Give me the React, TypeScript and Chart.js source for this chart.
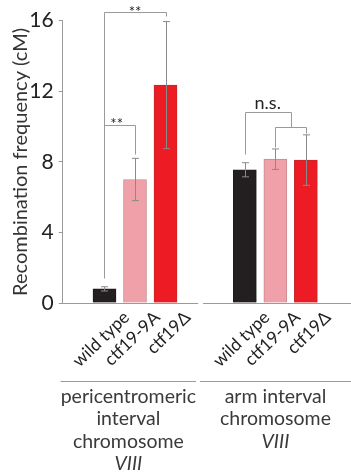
import React, { useEffect, useRef } from "react";
import { Chart, registerables } from "chart.js";

Chart.register(...registerables);

// ---- data ----
const categories = ["wild type", "ctf19-9A", "ctf19Δ", "wild type", "ctf19-9A", "ctf19Δ"];
const slots = [1, 2, 3, 5.6, 6.6, 7.6];
const values = [0.8, 7.0, 12.35, 7.55, 8.15, 8.1];
const errors = [0.12, 1.2, 3.6, 0.4, 0.58, 1.43];
const barColors = ["#231f20", "#f0a0a8", "#ed1c24", "#231f20", "#f0a0a8", "#ed1c24"];
const barBorders = ["#1a1a1a", "#c98a90", "#c9252b", "#1a1a1a", "#c98a90", "#c9252b"];
const yTicks = [0, 4, 8, 12, 16];
const groupLabels = [
  ["pericentromeric", "interval", "chromosome", "VIII"],
  ["arm interval", "chromosome", "VIII"],
];

const FONT = "Lato, 'Open Sans', sans-serif";
const X_MIN = -0.37;
const X_MAX = 9.08;
const GRAY = "#9a9a9a";

const overlayPlugin = {
  id: "overlay",
  afterDatasetsDraw(chart: any) {
    const ctx = chart.ctx;
    const xs = chart.scales.x;
    const ys = chart.scales.y;
    const px = (v: number) => xs.getPixelForValue(v);
    const py = (v: number) => ys.getPixelForValue(v);
    ctx.save();
    // error bars
    ctx.strokeStyle = "#8a8a8a";
    ctx.lineWidth = 1;
    slots.forEach((s, i) => {
      const x = Math.round(px(s)) + 0.5;
      const t = py(values[i] + errors[i]);
      const b = py(values[i] - errors[i]);
      ctx.beginPath();
      ctx.moveTo(x, t);
      ctx.lineTo(x, b);
      ctx.moveTo(x - 3.5, t);
      ctx.lineTo(x + 3.5, t);
      ctx.moveTo(x - 3.5, b);
      ctx.lineTo(x + 3.5, b);
      ctx.stroke();
    });

    // significance brackets
    ctx.strokeStyle = GRAY;
    const line = (pts: number[][]) => {
      ctx.beginPath();
      pts.forEach((p, k) => {
        const X = Math.round(px(p[0])) + 0.5;
        const Y = Math.round(py(p[1])) + 0.5;
        if (k === 0) ctx.moveTo(X, Y);
        else ctx.lineTo(X, Y);
      });
      ctx.stroke();
    };
    line([[slots[0], 1.4], [slots[0], 16.5], [slots[2], 16.5], [slots[2], 16.25]]);
    line([[slots[0], 10.1], [slots[1], 10.1], [slots[1], 8.45]]);
    const mid2 = (slots[4] + slots[5]) / 2;
    line([[slots[3], 8.45], [slots[3], 10.8], [mid2, 10.8], [mid2, 10.0]]);
    line([[slots[4], 8.86], [slots[4], 10.0], [slots[5], 10.0], [slots[5], 9.64]]);

    ctx.fillStyle = "#222";
    ctx.textAlign = "center";
    ctx.textBaseline = "alphabetic";
    ctx.font = `15px ${FONT}`;
    ctx.fillText("**", px((slots[0] + slots[2]) / 2), py(16.5) + 5);
    ctx.fillText("**", px((slots[0] + slots[1]) / 2) - 3, py(10.1) + 4);
    ctx.font = `18px ${FONT}`;
    ctx.fillText("n.s.", px((slots[3] + mid2) / 2), py(10.8) - 3);

    // split x baseline
    const y0 = Math.round(py(0)) + 0.5;
    ctx.strokeStyle = GRAY;
    ctx.beginPath();
    ctx.moveTo(px(X_MIN), y0);
    ctx.lineTo(px(4.07), y0);
    ctx.moveTo(px(4.23), y0);
    ctx.lineTo(px(X_MAX), y0);
    ctx.stroke();

    // group separator lines and labels
    const sepY = Math.round(chart.chartArea.bottom + 78) + 0.5;
    ctx.beginPath();
    ctx.moveTo(px(X_MIN) - 2, sepY);
    ctx.lineTo(px(4.0), sepY);
    ctx.moveTo(px(4.13), sepY);
    ctx.lineTo(px(X_MAX), sepY);
    ctx.stroke();

    const centers = [(px(X_MIN) - 2 + px(4.0)) / 2, (px(4.13) + px(X_MAX)) / 2];
    ctx.fillStyle = "#3a3a3a";
    ctx.textBaseline = "middle";
    groupLabels.forEach((rows, g) => {
      rows.forEach((txt, r) => {
        ctx.font = txt === "VIII" ? `italic 19.5px ${FONT}` : `19.5px ${FONT}`;
        ctx.fillText(txt, centers[g], sepY + 15 + r * 22.5);
      });
    });
    ctx.restore();
  },
};

export default function App() {
  const ref = useRef<HTMLCanvasElement | null>(null);
  useEffect(() => {
    if (!ref.current) return;
    const chart = new Chart(ref.current, {
      type: "bar",
      data: {
        datasets: [
          {
            data: slots.map((s, i) => ({ x: s, y: values[i] })),
            backgroundColor: barColors,
            borderColor: barBorders,
            borderWidth: 1,
            barThickness: 23,
          },
        ],
      },
      options: {
        animation: false,
        responsive: true,
        maintainAspectRatio: false,
        layout: { padding: { top: 20.7, left: 0, right: 0, bottom: 0 } },
        plugins: { legend: { display: false }, tooltip: { enabled: false } },
        scales: {
          x: {
            type: "linear",
            offset: false,
            min: X_MIN,
            max: X_MAX,
            grid: { display: false, offset: false },
            border: { display: false },
            afterBuildTicks: (scale: any) => {
              scale.ticks = slots.map((v) => ({ value: v }));
            },
            afterFit: (scale: any) => {
              scale.height = 169;
              scale.paddingLeft = 0;
              scale.paddingRight = 0;
            },
            ticks: {
              autoSkip: false,
              minRotation: 44,
              maxRotation: 44,
              padding: -4,
              labelOffset: 22,
              color: "#222",
              font: { family: FONT, size: 17.5 },
              callback: (_v: any, i: number) => categories[i],
            },
          },
          y: {
            min: 0,
            max: 16,
            afterBuildTicks: (scale: any) => {
              scale.ticks = yTicks.map((v) => ({ value: v }));
            },
            afterFit: (scale: any) => {
              scale.width = 62.7;
              scale.paddingTop = 0;
              scale.paddingBottom = 0;
            },
            grid: {
              display: true,
              drawOnChartArea: false,
              drawTicks: true,
              tickLength: 4,
              color: GRAY,
            },
            border: { display: true, color: GRAY },
            ticks: {
              padding: 5,
              color: "#222",
              font: { family: FONT, size: 21 },
            },
            title: {
              display: true,
              text: "Recombination frequency (cM)",
              color: "#333",
              font: { family: FONT, size: 20 },
              padding: { top: 9, bottom: 0 },
            },
          },
        },
      },
      plugins: [overlayPlugin],
    } as any);
    return () => chart.destroy();
  }, []);
  return (
    <div style={{ position: "fixed", left: 0, top: 0, width: 351, height: 472, background: "#fff" }}>
      <canvas ref={ref} />
    </div>
  );
}
